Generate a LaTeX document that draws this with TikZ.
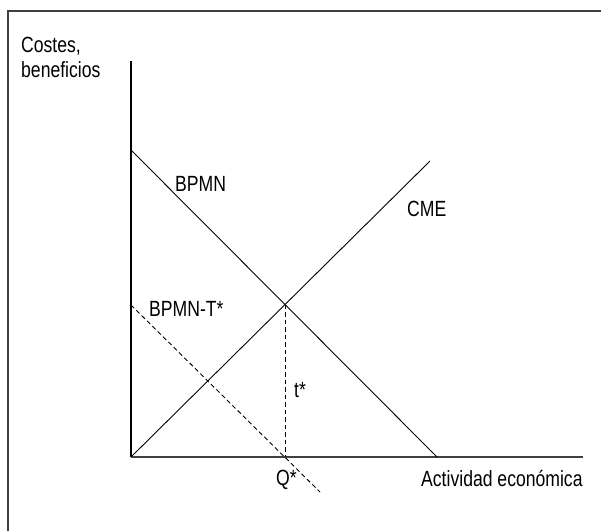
\documentclass[tikz,border=0pt]{standalone}
\usepackage{fontspec}
\setmainfont{Liberation Sans}[FakeStretch=0.8]
\tikzset{
  lbl/.style={anchor=base west, inner sep=0pt, font=\fontsize{22}{25}\selectfont},
  frameline/.style={line width=1.7pt, black!75},
  curve/.style={line width=0.9pt},
  guide/.style={line width=0.9pt, dash pattern=on 4.5pt off 3pt},
}
\begin{document}
\begin{tikzpicture}[x=1pt,y=-1pt]
  \useasboundingbox (0,0) rectangle (601,531);
  % frame and axes
  \draw[frameline] (8,531) -- (8,11) -- (601,11);
  \coordinate (o) at (131,457);
  \coordinate (ytop) at (131,61);
  \coordinate (xend) at (583,457);
  \draw[line width=1.2pt] (o) -- (ytop);
  \draw[frameline] (o) -- (xend);
  % curves
  \coordinate (bpA) at (131,150);
  \coordinate (bpB) at (437,457);
  \coordinate (cmA) at (131,457);
  \coordinate (cmB) at (430,161);
  \coordinate (btA) at (131,305);
  \coordinate (btB) at (320,492);
  \draw[curve] (bpA) -- (bpB);
  \draw[curve] (cmA) -- (cmB);
  \draw[guide] (btA) -- (btB);
  \coordinate (eq) at (intersection of bpA--bpB and cmA--cmB);
  \draw[guide] (eq) -- (eq |- o);
  % labels
  \node[lbl, align=left] (ylab) at (21,77) {Costes,\\beneficios};
  \node[lbl] (bpmn) at (175,191.5) {BPMN};
  \node[lbl] (cme) at (407,216) {CME};
  \node[lbl] (bpmnt) at (149,316) {BPMN-T*};
  \node[lbl] (tstar) at (294,397.5) {t*};
  \node[lbl] (qstar) at (276,485) {Q*};
  \node[lbl] (xlab) at (421,486.5) {Actividad económica};
\end{tikzpicture}
\end{document}
